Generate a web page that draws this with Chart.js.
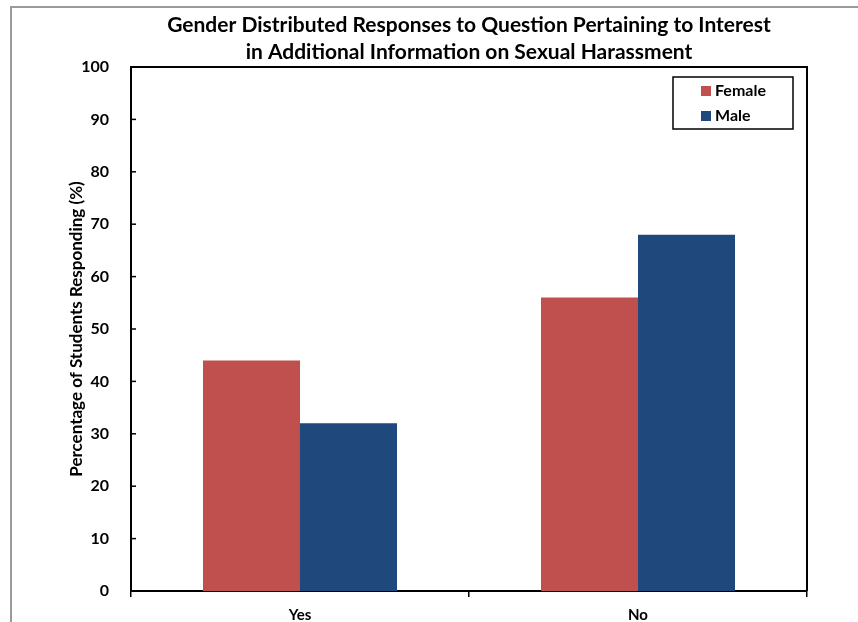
<!DOCTYPE html>
<html>
<head>
<meta charset="utf-8">
<script src="https://cdn.jsdelivr.net/npm/chart.js@4/dist/chart.umd.min.js"></script>
<style>
  html, body { margin: 0; padding: 0; background: #fff; }
  #wrap { position: relative; width: 858px; height: 622px; }
  #frame { position: absolute; left: 10px; top: 6px; right: -4px; bottom: -4px;
           border-left: 2px solid #9a9a9a; border-top: 2px solid #9a9a9a; }
  canvas { position: absolute; left: 0; top: 0; }
</style>
</head>
<body>
<div id="wrap">
  <div id="frame"></div>
  <canvas id="chart" width="858" height="622"></canvas>
</div>
<script>
var categories = ['Yes', 'No']
var female = [44, 56]
var male = [32, 68]
var seriesNames = ['Female', 'Male']
var yTicks = [0, 10, 20, 30, 40, 50, 60, 70, 80, 90, 100]
var titleLines = ['Gender Distributed Responses to Question Pertaining to Interest',
                  'in Additional Information on Sexual Harassment']

var FONT = 'Lato, "Open Sans", sans-serif'

// title over the plot, plot box, inward y ticks and boxed legend
var extras = {
  id: 'extras',
  afterDraw: function (chart) {
    var ctx = chart.ctx
    var a = chart.chartArea
    var y = chart.scales.y
    ctx.save()
    ctx.fillStyle = '#000'
    ctx.font = 'bold 21px ' + FONT
    ctx.textAlign = 'center'
    ctx.textBaseline = 'middle'
    titleLines.forEach(function (t, i) {
      ctx.fillText(t, (a.left + a.right) / 2, 25 + i * 27)
    })
    ctx.textAlign = 'left'

    ctx.strokeStyle = '#000'
    ctx.lineWidth = 2
    ctx.beginPath()
    ctx.moveTo(a.left, a.top)
    ctx.lineTo(a.right, a.top)
    ctx.lineTo(a.right, a.bottom)
    ctx.stroke()
    ctx.lineWidth = 1.5
    yTicks.forEach(function (v) {
      var py = y.getPixelForValue(v)
      ctx.beginPath()
      ctx.moveTo(a.left, py)
      ctx.lineTo(a.left + 5, py)
      ctx.stroke()
    })
    // legend
    var lx = a.left + 542, ly = a.top + 10, lw = 120, lh = 52
    ctx.lineWidth = 1.5
    ctx.strokeRect(lx, ly, lw, lh)
    ctx.font = 'bold 16px ' + FONT
    ctx.textBaseline = 'middle'
    chart.data.datasets.forEach(function (ds, i) {
      var cy = ly + 14 + i * 25
      ctx.fillStyle = ds.backgroundColor
      ctx.fillRect(lx + 28, cy - 5, 10, 10)
      ctx.fillStyle = '#000'
      ctx.fillText(ds.label, lx + 42, cy)
    })
    ctx.restore()
  }
}

new Chart(document.getElementById('chart').getContext('2d'), {
  type: 'bar',
  data: {
    labels: categories,
    datasets: [
      { label: seriesNames[0], data: female, backgroundColor: '#C0504D' },
      { label: seriesNames[1], data: male, backgroundColor: '#1F497D' }
    ]
  },
  options: {
    responsive: false,
    animation: false,
    devicePixelRatio: 1,
    layout: { padding: { left: 66, right: 51, top: 67, bottom: 0 } },
    datasets: { bar: { categoryPercentage: 0.574, barPercentage: 1 } },
    plugins: {
      legend: { display: false },
      tooltip: { enabled: false },
      title: { display: false }
    },
    scales: {
      x: {
        grid: { drawOnChartArea: false, drawTicks: true, tickLength: 6, color: '#000', lineWidth: 1.5 },
        border: { color: '#000', width: 2 },
        ticks: { color: '#000', font: { family: FONT, size: 15, weight: 'bold' }, padding: 9 },
        afterFit: function (s) { s.height = 31 }
      },
      y: {
        min: 0, max: 100,
        grid: { display: false },
        border: { color: '#000', width: 2 },
        ticks: { stepSize: 10, color: '#000', font: { family: FONT, size: 16, weight: 'bold' }, padding: 14 },
        title: {
          display: true,
          text: 'Percentage of Students Responding (%)',
          color: '#000',
          font: { family: FONT, size: 17, weight: 'bold' },
          padding: { top: 0, bottom: 0 }
        },
        afterFit: function (s) { s.width = 65 }
      }
    }
  },
  plugins: [extras]
})
</script>
</body>
</html>
